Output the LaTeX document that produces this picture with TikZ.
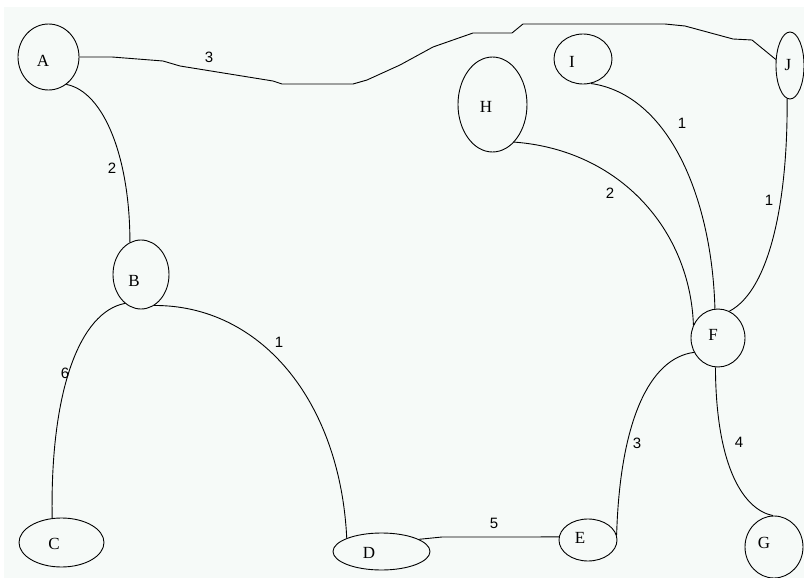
\documentclass[tikz,border=0pt]{standalone}
\usepackage{fontspec}
\setmainfont{Liberation Serif}
\newfontfamily\wfont{Liberation Sans}
\usetikzlibrary{shapes.geometric}
\definecolor{bgc}{RGB}{246,250,248}
\begin{document}
\begin{tikzpicture}[x=1pt,y=-1pt,
  vert/.style={draw, ellipse, line width=0.9pt, inner sep=0pt},
  vlet/.style={inner sep=0pt, font=\fontsize{17}{17}\selectfont},
  edge/.style={line width=0.9pt},
  wlab/.style={inner sep=0pt, font=\wfont\fontsize{15}{15}\selectfont}]
\useasboundingbox (0,0) rectangle (804,578);
\fill[white] (0,0) rectangle (804,578);
\fill[bgc] (4,7) rectangle (804,578);
% vertices
\node[vert, minimum width=61pt, minimum height=66pt] (A) at (48.5,57) {};
\node[vert, minimum width=56pt, minimum height=69pt] (B) at (141,274.5) {};
\node[vert, minimum width=85pt, minimum height=49pt] (C) at (61.5,542.5) {};
\node[vert, minimum width=97pt, minimum height=37pt] (D) at (381.5,551.5) {};
\node[vert, minimum width=58pt, minimum height=42pt] (E) at (588,540) {};
\node[vert, minimum width=54pt, minimum height=58pt] (F) at (718,338) {};
\node[vert, minimum width=58pt, minimum height=62pt] (G) at (774,547) {};
\node[vert, minimum width=69pt, minimum height=95pt] (H) at (492.5,104.5) {};
\node[vert, minimum width=58pt, minimum height=50pt] (I) at (583,59) {};
\node[vert, minimum width=28pt, minimum height=67pt] (J) at (790,65.5) {};
% vertex letters
\node[vlet] (lA) at (43,61) {A};
\node[vlet] (lB) at (134,281) {B};
\node[vlet] (lC) at (54,544) {C};
\node[vlet] (lD) at (369,553) {D};
\node[vlet] (lE) at (580,538) {E};
\node[vlet] (lF) at (713,335) {F};
\node[vlet] (lG) at (764,543) {G};
\node[vlet] (lH) at (486,107) {H};
\node[vlet] (lI) at (572,62) {I};
\node[vlet] (lJ) at (788,65) {J};
% edges
\draw[edge] (A.east) -- (112,57) -- (163,61) -- (180,66) -- (273,81) -- (282,84) -- (353,84) -- (367,80) -- (400,65) -- (433,47) -- (473,33) -- (512,33) -- (523,24) -- (665,24) -- (685,26) -- (733,39) -- (752,40) -- (J.157);
\draw[edge] (A.-57) .. controls (105,92) and (130,160) .. (B.109);
\draw[edge] (B.-119) .. controls (80,312) and (50,390) .. (C.111);
\draw[edge] (B.-67) .. controls (260,305) and (340,400) .. (D.159);
\draw[edge] (D.18) -- (442,537) -- (E.174);
\draw[edge] (E.10) .. controls (620,420) and (650,358) .. (F.-149);
\draw[edge] (F.-95) .. controls (716,470) and (745,510) .. (G.92);
\draw[edge] (H.-60) .. controls (620,150) and (690,230) .. (F.152);
\draw[edge] (I.-72) .. controls (670,95) and (712,200) .. (F.96);
\draw[edge] (J.-95) .. controls (788,200) and (770,290) .. (F.67);
% weights
\node[wlab] (wAJ) at (209,57) {3};
\node[wlab] (wAB) at (112,168) {2};
\node[wlab] (wBC) at (65,373) {6};
\node[wlab] (wBD) at (279,342) {1};
\node[wlab] (wDE) at (494,523) {5};
\node[wlab] (wEF) at (637,443) {3};
\node[wlab] (wFG) at (739,442) {4};
\node[wlab] (wHF) at (610,193) {2};
\node[wlab] (wIF) at (682,123) {1};
\node[wlab] (wJF) at (769,200) {1};
\end{tikzpicture}
\end{document}
